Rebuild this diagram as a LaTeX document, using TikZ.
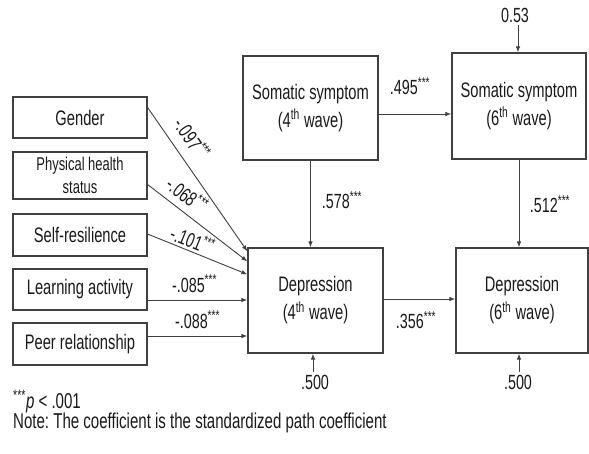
\documentclass[tikz,border=0pt]{standalone}
\usepackage{fontspec}
\setmainfont{Liberation Sans}[FakeStretch=0.7]
\usetikzlibrary{arrows.meta}
\definecolor{ln}{HTML}{404040}
\definecolor{tx}{HTML}{1A1A1A}
\frenchspacing
\begin{document}
\begin{tikzpicture}[x=1pt,y=-1pt,
  box/.style={draw=ln,line width=1.2pt,inner sep=0pt,align=center,text=tx,font=\fontsize{21}{28}\selectfont},
  smallbox/.style={box,font=\fontsize{18.5}{23}\selectfont},
  arr/.style={draw=ln,line width=0.9pt,-{Latex[length=6pt,width=4.5pt]}},
  lab/.style={inner sep=0pt,text=tx,font=\fontsize{20.5}{22}\selectfont},
  note/.style={inner sep=0pt,text=tx,anchor=base west,font=\fontsize{21.5}{24}\selectfont}]
\useasboundingbox[fill=white] (0,0) rectangle (589,453);
% left boxes
\node[box,minimum width=134pt,minimum height=41pt] (gender) at (80,117.5) {Gender};
\node[smallbox,minimum width=134pt,minimum height=47pt] (phys) at (80,175.5) {Physical health\\status};
\node[box,minimum width=134pt,minimum height=42pt] (self) at (80,235) {Self-resilience};
\node[box,minimum width=134pt,minimum height=41pt] (learn) at (80,289.5) {Learning activity};
\node[box,minimum width=134pt,minimum height=42pt] (peer) at (80,344) {Peer relationship};
% main boxes
\node[box,minimum width=135pt,minimum height=104pt] (som4) at (310.5,108) {Somatic symptom\\(4\textsuperscript{th} wave)};
\node[box,minimum width=134pt,minimum height=106pt] (som6) at (519,106) {Somatic symptom\\(6\textsuperscript{th} wave)};
\node[box,minimum width=135pt,minimum height=105pt] (dep4) at (315.5,300.5) {Depression\\(4\textsuperscript{th} wave)};
\node[box,minimum width=132pt,minimum height=105pt] (dep6) at (522,300.5) {Depression\\(6\textsuperscript{th} wave)};
% predictors to depression (4th wave)
\draw[arr] ([yshift=10pt]gender.east) -- node[lab,sloped,above=10pt,pos=0.29]{-.097\textsuperscript{***}} ([yshift=-4pt]dep4.north west);
\draw[arr] ([yshift=-9pt]phys.east) -- node[lab,sloped,above=7pt,pos=0.30]{-.068\textsuperscript{***}} ([yshift=-14pt]dep4.north west);
\draw[arr] ([yshift=1pt]self.east) -- node[lab,sloped,above=2pt,pos=0.41]{-.101\textsuperscript{***}} ([yshift=-27pt]dep4.north west);
\draw[arr] ([yshift=-10.5pt]learn.east) -- node[lab,above=7pt,pos=0.47]{-.085\textsuperscript{***}} ([yshift=-10.5pt]learn.east -| dep4.west);
\draw[arr] ([yshift=8pt]peer.east) -- node[lab,above=7pt,pos=0.5]{-.088\textsuperscript{***}} ([yshift=8pt]peer.east -| dep4.west);
% structural paths
\draw[arr] ([yshift=-6pt]som4.east) -- ([yshift=-6pt]som4.east -| som6.west);
\node[lab] (l495) at (410,86) {.495\textsuperscript{***}};
\draw[arr] (som4.south) -- (som4.south |- dep4.north);
\node[lab] (l578) at (342,200) {.578\textsuperscript{***}};
\draw[arr] (som6.south) -- (som6.south |- dep6.north);
\node[lab] (l512) at (550,204) {.512\textsuperscript{***}};
\draw[arr] ([yshift=1.5pt]dep4.east) -- ([yshift=1.5pt]dep4.east -| dep6.west);
\node[lab] (l356) at (416,320) {.356\textsuperscript{***}};
% residuals
\node[lab] (e3) at (515,15) {0.53};
\coordinate (r3) at (518,25);
\draw[arr] (r3) -- (r3 |- som6.north);
\node[lab] (e1) at (315,382) {.500};
\coordinate (r1) at (313,372);
\draw[arr] (r1) -- (r1 |- dep4.south);
\node[lab] (e2) at (518,382) {.500};
\coordinate (r2) at (519,372);
\draw[arr] (r2) -- (r2 |- dep6.south);
% notes
\node[note] (pnote) at (13,408) {\textsuperscript{***}\textit{p} < .001};
\node[note] (cnote) at (13,428) {Note: The coefficient is the standardized path coefficient};
\end{tikzpicture}
\end{document}
